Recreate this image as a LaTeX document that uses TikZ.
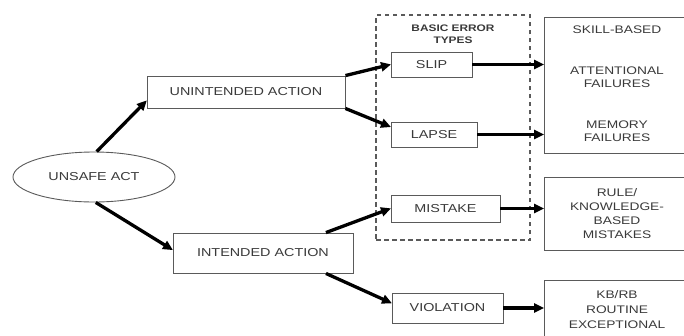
\documentclass[tikz,border=0pt]{standalone}
\usepackage{fontspec}
\setmainfont[FakeStretch=1.25]{Liberation Sans}
\usetikzlibrary{shapes.geometric,arrows.meta,calc}
\definecolor{boxline}{HTML}{5A5A5A}
\definecolor{txt}{HTML}{3A3A3A}
\begin{document}
\begin{tikzpicture}[x=1pt,y=-1pt,
  box/.style={draw=boxline,line width=0.9pt,rectangle,inner sep=0pt,text=txt,
    font=\fontsize{11.5}{13}\selectfont,align=center},
  rbox/.style={draw=boxline,line width=0.9pt,rectangle,inner sep=0pt,text=txt,
    font=\fontsize{11}{14}\selectfont,align=center,minimum width=146pt},
  rtext/.style={inner sep=0pt,text=txt,font=\fontsize{11}{13}\selectfont,align=center},
  conn/.style={line width=3.3pt,-{Triangle[length=10pt,width=9pt]},shorten >=-0.5pt},
]
\useasboundingbox (0,0) rectangle (684,335);
\clip (0,0) rectangle (684,335);
\fill[white] (0,0) rectangle (684,335);

% dashed group
\node[draw=boxline,dashed,dash pattern=on 4.5pt off 3.5pt,line width=1.3pt,
      minimum width=154pt,minimum height=225pt,inner sep=0pt] (grp) at (453,127.5) {};
\node[inner sep=0pt,text=txt,font=\bfseries\fontsize{9.5}{12}\selectfont,align=center]
      (grplabel) at (453,34) {BASIC ERROR\\TYPES};

% left nodes
\node[ellipse,draw=boxline,line width=0.9pt,minimum width=162pt,minimum height=50pt,
      inner sep=0pt,text=txt,font=\fontsize{11.5}{13}\selectfont] (unsafe) at (94,177) {UNSAFE ACT};
\node[box,minimum width=198pt,minimum height=32pt] (unint) at (246,92) {UNINTENDED ACTION};
\node[box,minimum width=180pt,minimum height=40pt] (intd) at (263,253) {INTENDED ACTION};

% error types
\node[box,minimum width=81pt,minimum height=25pt] (slip) at (431.5,64.5) {SLIP};
\node[box,minimum width=86pt,minimum height=25pt] (lapse) at (434,134.5) {LAPSE};
\node[box,minimum width=109pt,minimum height=27pt] (mistake) at (445.5,208.5) {MISTAKE};
\node[box,minimum width=111pt,minimum height=30pt] (violation) at (447.5,308) {VIOLATION};

% right boxes
\node[rbox,minimum height=136pt] (r1) at (617,85) {};
\node[rtext] (skill) at (617,30) {SKILL-BASED};
\node[rtext] (attn) at (617,77.5) {ATTENTIONAL\\FAILURES};
\node[rtext] (mem) at (617,131.5) {MEMORY\\FAILURES};
\node[rbox,minimum height=73pt] (r2) at (617,213.5) {RULE/\\KNOWLEDGE-\\BASED\\MISTAKES};
\node[rbox,minimum height=58pt,anchor=north,font=\fontsize{11}{15}\selectfont] (r3) at (617,280) {KB/RB\\ROUTINE\\EXCEPTIONAL};

% connectors
\draw[conn] (unsafe.84) -- (unint.185);
\draw[conn] (unsafe.-86) -- (intd.178);
\draw[conn] (unint.north east) -- (slip.west);
\draw[conn] (unint.south east) -- (lapse.170);
\draw[conn] (intd.18) -- (mistake.west);
\draw[conn] (intd.-18) -- (violation.175);
\draw[conn] (slip.east) -- (slip.east -| r1.west);
\draw[conn] (lapse.east) -- (lapse.east -| r1.west);
\draw[conn] (mistake.east) -- (mistake.east -| r2.west);
\draw[conn] (violation.east) -- (violation.east -| r3.west);
\end{tikzpicture}
\end{document}
